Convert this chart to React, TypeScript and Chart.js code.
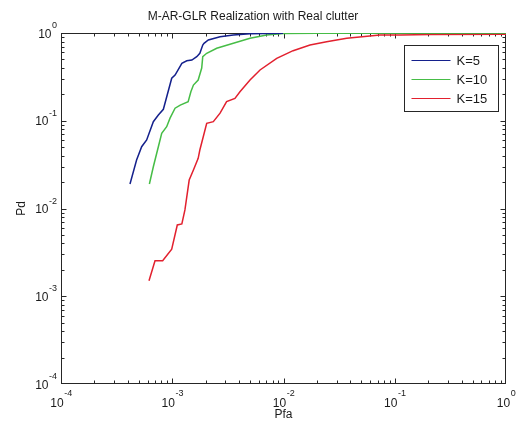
import React, { useEffect, useRef } from 'react';
import { Chart, registerables } from 'chart.js';

Chart.register(...registerables);

// ---- Data ----
const titleText = 'M-AR-GLR Realization with Real clutter';
const xTitle = 'Pfa';
const yTitle = 'Pd';

const seriesLabels = ['K=5', 'K=10', 'K=15'];
const seriesColors = ['#14208c', '#46bd46', '#e2202e'];

const pfaK5 = [4.17e-4, 4.78e-4, 5.31e-4, 5.89e-4, 6.76e-4, 7.50e-4, 8.32e-4, 9.89e-4, 1.06e-3, 1.22e-3, 1.35e-3, 1.50e-3, 1.66e-3, 1.77e-3, 1.88e-3, 1.93e-3, 2.11e-3, 2.69e-3, 3.54e-3, 5.0e-3, 9.9e-3];
const pdK5 = [0.0190, 0.0357, 0.0506, 0.0604, 0.0976, 0.116, 0.135, 0.305, 0.332, 0.452, 0.483, 0.492, 0.537, 0.587, 0.730, 0.763, 0.832, 0.908, 0.949, 0.982, 0.995];

const pfaK10 = [6.23e-4, 6.76e-4, 7.50e-4, 8.04e-4, 8.91e-4, 9.55e-4, 1.06e-3, 1.18e-3, 1.39e-3, 1.47e-3, 1.55e-3, 1.71e-3, 1.84e-3, 1.88e-3, 2.04e-3, 2.51e-3, 3.54e-3, 5.0e-3, 7.06e-3, 9.9e-3, 2.0e-2, 1];
const pdK10 = [0.0190, 0.0299, 0.0506, 0.0719, 0.0856, 0.107, 0.139, 0.151, 0.165, 0.214, 0.255, 0.291, 0.399, 0.537, 0.587, 0.669, 0.763, 0.870, 0.949, 0.99, 0.995, 0.998];

const pfaK15 = [6.18e-4, 7.00e-4, 8.20e-4, 9.89e-4, 1.11e-3, 1.22e-3, 1.30e-3, 1.42e-3, 1.55e-3, 1.71e-3, 1.77e-3, 1.90e-3, 2.04e-3, 2.34e-3, 2.69e-3, 3.08e-3, 3.66e-3, 4.06e-3, 5.0e-3, 6.15e-3, 8.69e-3, 0.0122, 0.0173, 0.0244, 0.0370, 0.0736, 0.113, 0.207, 1];
const pdK15 = [1.50e-3, 2.54e-3, 2.54e-3, 3.43e-3, 6.49e-3, 6.66e-3, 9.62e-3, 0.0211, 0.0275, 0.0373, 0.0464, 0.0658, 0.0935, 0.0976, 0.122, 0.165, 0.180, 0.214, 0.291, 0.379, 0.515, 0.629, 0.730, 0.796, 0.870, 0.949, 0.95, 0.962, 0.965];

const decadeValues = [1e-4, 1e-3, 1e-2, 1e-1, 1];
const decadeBase = '10';
const decadeExponents = ['-4', '-3', '-2', '-1', '0'];

const FONT = '"Liberation Sans", Arial, Helvetica, sans-serif';
const AXIS_COLOR = '#262626';
const TEXT_COLOR = '#1a1a1a';

const boxPlugin = {
  id: 'matlabBox',
  beforeDatasetsDraw(chart: any) {
    const { ctx, chartArea: a, scales } = chart;
    const xs = scales.x, ys = scales.y;
    ctx.save();
    ctx.strokeStyle = AXIS_COLOR;
    ctx.lineWidth = 1;
    const L = Math.round(a.left) + 0.5, R = Math.round(a.right) - 0.5;
    const T = Math.round(a.top) + 0.5, B = Math.round(a.bottom) - 0.5;
    ctx.strokeRect(L, T, R - L, B - T);
    ctx.beginPath();
    for (let n = -4; n <= 0; n++) {
      for (let k = 1; k <= 9; k++) {
        const v = k * Math.pow(10, n);
        if (v > 1.0000001) continue;
        const len = k === 1 ? 5 : 3;
        const px = Math.round(xs.getPixelForValue(v)) + 0.5;
        if (px > L + 1 && px < R - 1) {
          ctx.moveTo(px, B); ctx.lineTo(px, B - len);
          ctx.moveTo(px, T); ctx.lineTo(px, T + len);
        }
        const py = Math.round(ys.getPixelForValue(v)) + 0.5;
        if (py > T + 1 && py < B - 1) {
          ctx.moveTo(L, py); ctx.lineTo(L + len, py);
          ctx.moveTo(R, py); ctx.lineTo(R - len, py);
        }
      }
    }
    ctx.stroke();

    // decade tick labels: "10" with raised exponent
    const baseFont = '12px ' + FONT;
    const expFont = '9px ' + FONT;
    ctx.fillStyle = TEXT_COLOR;
    ctx.textBaseline = 'alphabetic';
    ctx.textAlign = 'left';
    decadeValues.forEach((v, i) => {
      const exp = decadeExponents[i];
      ctx.font = baseFont;
      const wb = ctx.measureText(decadeBase).width;
      ctx.font = expFont;
      const we = ctx.measureText(exp).width;
      // x axis label
      const px = xs.getPixelForValue(v);
      const x0 = px - (wb + we) / 2;
      ctx.font = baseFont;
      ctx.fillText(decadeBase, x0, a.bottom + 23);
      ctx.font = expFont;
      ctx.fillText(exp, x0 + wb + 0.5, a.bottom + 11.5);
      // y axis label
      const py = ys.getPixelForValue(v);
      const xr = a.left - 4;
      ctx.font = expFont;
      ctx.fillText(exp, xr - we, py - 5);
      ctx.font = baseFont;
      ctx.fillText(decadeBase, xr - we - wb - 0.5, py + 4.5);
    });
    ctx.restore();
  },
};

const legendPlugin = {
  id: 'matlabLegend',
  afterDatasetsDraw(chart: any) {
    const { ctx, chartArea: a } = chart;
    const w = 94, h = 66;
    const left = Math.round(a.right - 102) + 0.5;
    const top = Math.round(a.top + 12) + 0.5;
    ctx.save();
    ctx.fillStyle = '#ffffff';
    ctx.fillRect(left, top, w, h);
    ctx.strokeStyle = AXIS_COLOR;
    ctx.lineWidth = 1;
    ctx.strokeRect(left, top, w, h);
    ctx.font = '13px ' + FONT;
    ctx.textBaseline = 'middle';
    ctx.textAlign = 'left';
    chart.data.datasets.forEach((ds: any, i: number) => {
      const y = top + 15 + i * 19;
      ctx.strokeStyle = ds.borderColor;
      ctx.lineWidth = 1.2;
      ctx.beginPath();
      ctx.moveTo(left + 7, y);
      ctx.lineTo(left + 46, y);
      ctx.stroke();
      ctx.fillStyle = TEXT_COLOR;
      ctx.fillText(ds.label, left + 52, y + 0.5);
    });
    ctx.restore();
  },
};

function decadeTicks(scale: any) {
  scale.ticks = decadeValues.map((v) => ({ value: v, major: true }));
}

export default function App() {
  const ref = useRef<HTMLCanvasElement | null>(null);

  useEffect(() => {
    if (!ref.current) return;
    const xsData = [pfaK5, pfaK10, pfaK15];
    const ysData = [pdK5, pdK10, pdK15];
    const chart = new Chart(ref.current, {
      type: 'line',
      data: {
        datasets: seriesLabels.map((label, i) => ({
          label,
          data: xsData[i].map((x, j) => ({ x, y: ysData[i][j] })),
          borderColor: seriesColors[i],
          backgroundColor: seriesColors[i],
          borderWidth: 1.5,
          pointRadius: 0,
          tension: 0,
          fill: false,
        })),
      },
      options: {
        responsive: false,
        animation: false,
        devicePixelRatio: 1,
        layout: { padding: { left: 0, right: 13, top: 0, bottom: 0 } },
        plugins: {
          legend: { display: false },
          tooltip: { enabled: false },
          title: {
            display: true,
            text: titleText,
            color: TEXT_COLOR,
            font: { family: FONT, size: 12, weight: 'normal' },
            padding: { top: 9.5, bottom: 9.1 },
          },
        },
        scales: {
          x: {
            type: 'logarithmic',
            min: 1e-4,
            max: 1,
            afterBuildTicks: decadeTicks,
            afterFit: (s: any) => { s.height = 40; },
            grid: { display: false, drawTicks: false },
            border: { display: false },
            ticks: { display: false },
            title: {
              display: true,
              text: xTitle,
              color: TEXT_COLOR,
              font: { family: FONT, size: 12 },
              padding: { top: 0, bottom: 2.4 },
            },
          },
          y: {
            type: 'logarithmic',
            min: 1e-4,
            max: 1,
            afterBuildTicks: decadeTicks,
            afterFit: (s: any) => { s.width = 61; },
            grid: { display: false, drawTicks: false },
            border: { display: false },
            ticks: { display: false },
            title: {
              display: true,
              text: yTitle,
              color: TEXT_COLOR,
              font: { family: FONT, size: 12 },
              padding: { top: 14, bottom: 0 },
            },
          },
        },
      } as any,
      plugins: [boxPlugin, legendPlugin],
    });
    return () => chart.destroy();
  }, []);

  return (
    <div style={{ position: 'fixed', left: 0, top: 0, width: 519, height: 424, background: '#fff' }}>
      <canvas ref={ref} width={519} height={424} style={{ width: 519, height: 424, display: 'block' }} />
    </div>
  );
}
